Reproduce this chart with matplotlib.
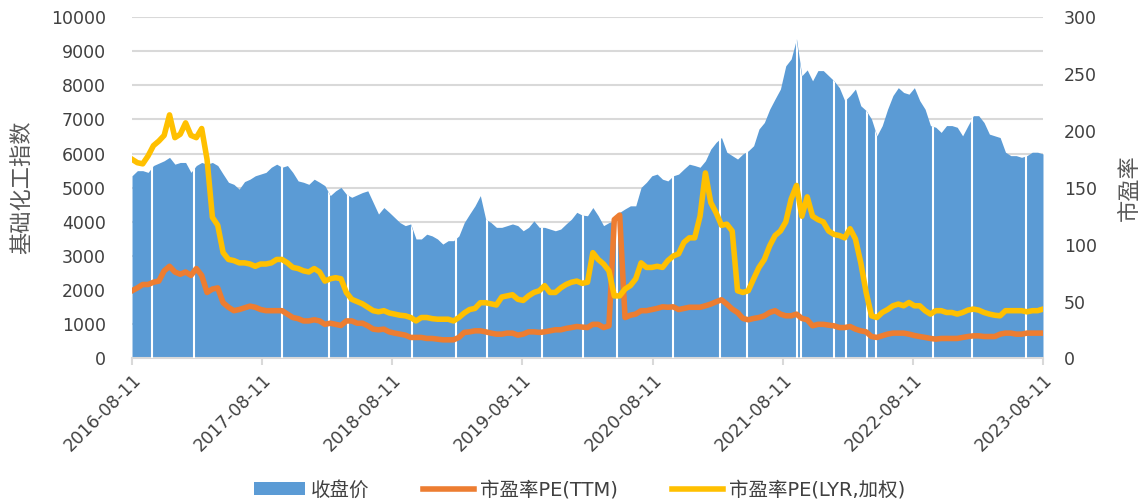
import matplotlib
matplotlib.use("Agg")
import matplotlib.pyplot as plt
from matplotlib.lines import Line2D
from matplotlib.patches import Patch
import matplotlib.dates as mdates
import pandas as pd

plt.rcParams["font.family"] = ["DejaVu Sans", "Noto Sans CJK SC"]

START = "2016-08-11"
END = "2023-08-11"

# 收盘价, roughly every 15 days
close_price = [
    5350, 5500, 5500, 5450, 5650, 5720, 5790, 5890, 5690, 5740, 5740, 5450, 5650, 5740, 5690, 5740,
    5650, 5400, 5160, 5100, 4960, 5180,
    5250, 5350, 5400, 5450, 5600, 5690, 5600, 5650, 5450, 5200, 5160, 5100, 5250, 5160, 5060, 4770,
    4910, 5010, 4810, 4720, 4790,
    4860, 4910, 4570, 4230, 4420, 4280, 4130, 3980, 3890, 3940, 3500, 3500, 3640, 3590, 3500, 3350,
    3450, 3450, 3590, 3980, 4230,
    4470, 4770, 4080, 3980, 3840, 3840, 3890, 3940, 3890, 3740, 3840, 4030, 3840, 3840, 3790, 3740,
    3790, 3940, 4080, 4280, 4200,
    4180, 4420, 4180, 3890, 3980, 4030, 4280, 4380, 4470, 4470, 5010, 5160, 5350, 5400, 5250, 5200,
    5350, 5400, 5550, 5690, 5650,
    5600, 5790, 6130, 6330, 6470, 6040, 5940, 5840, 5990, 6080, 6230, 6720, 6910, 7300, 7600, 7890,
    8570, 8770, 9360, 8280, 8450,
    8130, 8430, 8430, 8280, 8130, 7930, 7550, 7700, 7890, 7400, 7260, 7010, 6520, 6820, 7300, 7700,
    7930, 7790, 7740, 7930,
    7550, 7300, 6820, 6770, 6620, 6820, 6820, 6770, 6520, 6820, 7110, 7110, 6910, 6570, 6520, 6470,
    6040, 5940, 5940, 5890, 5940, 6040, 6040, 5990,
]

pe_ttm = [
    59.5, 62, 65, 65, 67, 68, 77, 81, 76, 74, 76, 73, 79, 73, 58, 61, 62, 49, 45, 42, 43, 44.5,
    46, 45, 43, 42, 42, 42, 42, 39, 36, 35, 33, 33, 34, 33, 30, 31, 30, 29, 33, 33, 31,
    31, 28.7, 25.8, 25.2, 25.8, 23.4, 22.3, 21.4, 20.5, 18.5, 18.5, 18.5, 17.6, 17.6, 17, 16.4,
    16.4, 16.4, 18.5, 22.9, 23.4,
    24.3, 24.3, 23.4, 22.3, 21.4, 21.4, 22.3, 22.3, 20.5, 21.4, 23.4, 23.4, 22.9, 23.4, 24.3, 25.2,
    25.2, 26.4, 27.2, 28.1, 27.6,
    27.2, 30, 30, 27.2, 28.7, 122, 126, 36, 38, 39, 42, 42, 43, 44, 45.4, 45, 45.4, 43, 44, 45, 45,
    45, 46.3, 47.8, 49.8, 51.6, 47.8, 43.4, 40.4, 35.2, 34, 35.2, 36, 37.5, 40.4, 42, 39, 37.5,
    37.5, 39, 35.2, 34,
    28.7, 30, 30, 29.3, 28.7, 27.2, 27.2, 28.1, 25.8, 24.3, 23.4, 19.3, 18.5, 19.9, 21.4, 22.3,
    22.3, 22.3, 21.4, 20.2,
    19.3, 18.5, 17.6, 17, 17.6, 17.6, 17.6, 17.6, 18.5, 19.3, 19.9, 19.9, 19.3, 19.3, 19.3, 21.4,
    22.3, 22.3, 21.4, 21.4, 22.3, 22.3, 22.3, 22.3,
]

pe_lyr = [
    175, 172, 171, 178, 187, 191, 196, 214, 194, 197, 207, 196, 194, 202, 175, 124, 117, 93, 87,
    86, 84, 84,
    83, 81, 83, 83, 84, 87, 87, 84, 80, 79, 77, 76, 79, 76, 68, 70, 71, 70, 58, 52, 50,
    48, 45, 42, 41, 42, 40, 39, 38, 37.5, 36, 33, 36, 36, 35, 34.5, 34.5, 34.5, 33, 36, 40, 43,
    44, 49, 49, 48, 47, 54, 55, 56, 52, 51, 55, 58, 59.5, 64, 58, 58, 62, 65, 67, 68, 66,
    67, 93, 87, 83, 77, 55, 55, 61, 64, 70, 84, 80, 80, 81, 80, 86, 90, 92, 102, 106, 106,
    125, 163, 137, 128, 117, 118, 112, 59.5, 58, 59.5, 70, 80, 87, 99, 108, 112, 120, 140, 152,
    125, 142,
    125, 122, 120, 112, 109, 108, 106, 114, 105, 84, 58, 37.5, 36, 40.4, 43, 46.3, 47.8, 46.3,
    49.2, 46.3,
    46.3, 42, 39, 42, 42, 40.4, 40.4, 39, 40.4, 42.5, 43.4, 42.5, 40.4, 39, 38, 37.5, 42, 42, 42,
    42, 41, 42, 42, 43.4,
]

# market holidays: no bars on these days
holiday_gaps = [
    "2016-10-07", "2017-01-31", "2017-10-06", "2018-02-15", "2018-04-08", "2018-10-05",
    "2019-02-05", "2019-05-03", "2019-10-04", "2020-01-29", "2020-05-04", "2020-10-06",
    "2021-02-15", "2021-05-02", "2021-09-19", "2021-10-02", "2022-01-01", "2022-02-03",
    "2022-04-04", "2022-04-30", "2022-10-05", "2023-01-24", "2023-06-23",
]

year_ticks = ["2016-08-11", "2017-08-11", "2018-08-11", "2019-08-11",
              "2020-08-11", "2021-08-11", "2022-08-11", "2023-08-11"]

BLUE = "#5B9BD5"
ORANGE = "#ED7D31"
YELLOW = "#FFC000"
GRID = "#D9D9D9"
TEXT = "#404040"

dates = pd.date_range(START, END, periods=len(close_price))

fig = plt.figure(figsize=(11.43, 5.04), dpi=100)
ax = fig.add_axes([0.1155, 0.2887, 0.797, 0.6776])
ax2 = ax.twinx()

fill = ax.fill_between(dates, close_price, 0, color=BLUE, lw=0, zorder=2)
gaps = ax.vlines(pd.to_datetime(holiday_gaps), 0, 10000, colors="white", lw=1.5, zorder=3)
gaps.set_clip_path(fill.get_paths()[0], fill.get_transform())

ax2.plot(dates, pe_ttm, color=ORANGE, lw=4, solid_joinstyle="round")
ax2.plot(dates, pe_lyr, color=YELLOW, lw=4, solid_joinstyle="round")

ax.set_xlim(pd.Timestamp(START), pd.Timestamp(END))
ax.set_ylim(0, 10000)
ax2.set_ylim(0, 300)
ax.set_yticks(range(0, 10001, 1000))
ax2.set_yticks(range(0, 301, 50))
ax.set_xticks(pd.to_datetime(year_ticks))
ax.xaxis.set_major_formatter(mdates.DateFormatter("%Y-%m-%d"))

ax.set_axisbelow(True)
ax.grid(axis="y", color=GRID, lw=1.5)
for a in (ax, ax2):
    for side in ("top", "left", "right", "bottom"):
        a.spines[side].set_visible(False)
ax.spines["bottom"].set_visible(True)
ax.spines["bottom"].set_color(GRID)
ax.spines["bottom"].set_linewidth(1.5)

ax.tick_params(axis="y", length=0, labelsize=12.5, labelcolor=TEXT, pad=19)
ax2.tick_params(axis="y", length=0, labelsize=12.5, labelcolor=TEXT, pad=15)
ax.tick_params(axis="x", length=5, width=1.5, color=GRID, labelsize=12.5, labelcolor=TEXT, pad=4)
for lbl in ax.get_xticklabels():
    lbl.set_rotation(45)
    lbl.set_ha("right")
    lbl.set_rotation_mode("anchor")

ax.set_ylabel("基础化工指数", fontsize=16, color="#595959", family=["Noto Sans CJK SC"])
ax2.set_ylabel("市盈率", fontsize=16, color="#595959", family=["Noto Sans CJK SC"], rotation=90)
ax.yaxis.set_label_coords(-0.109, 0.5)
ax2.yaxis.set_label_coords(1.082, 0.5)

handles = [
    Patch(facecolor=BLUE, edgecolor="none"),
    Line2D([], [], color=ORANGE, lw=4),
    Line2D([], [], color=YELLOW, lw=4),
]
labels = ["收盘价", "市盈率PE(TTM)", "市盈率PE(LYR,加权)"]
fig.legend(handles, labels, loc="center", bbox_to_anchor=(0.507, 0.028), ncol=3, frameon=False,
           prop={"family": ["DejaVu Sans", "Noto Sans CJK SC"], "size": 14}, handlelength=2.6,
           handleheight=0.65, handletextpad=0.3, columnspacing=2.8, labelcolor=TEXT)

fig.savefig("out.png", dpi=100)
